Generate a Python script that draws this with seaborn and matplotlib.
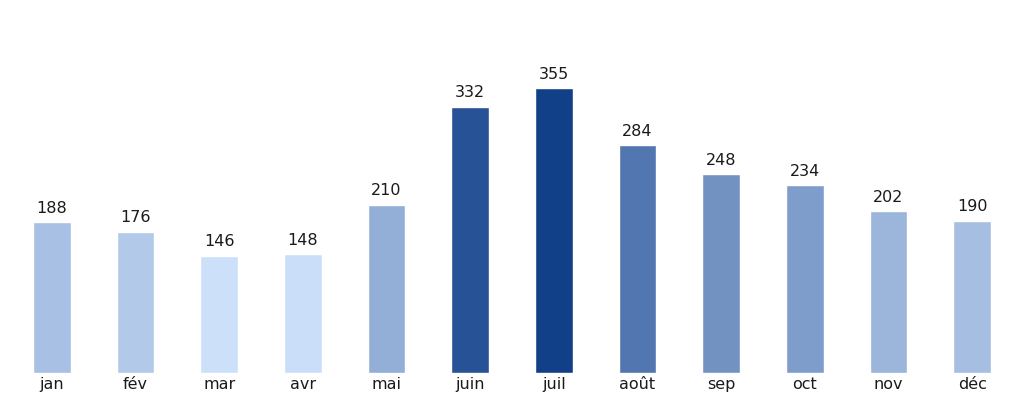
import numpy as np
import pandas as pd
import matplotlib
matplotlib.use("Agg")
import matplotlib.pyplot as plt
import seaborn as sns

# --- données ---
mois = ["jan", "fév", "mar", "avr", "mai", "juin", "juil", "août", "sep", "oct", "nov", "déc"]
valeurs = [188, 176, 146, 148, 210, 332, 355, 284, 248, 234, 202, 190]

df = pd.DataFrame({"mois": mois, "valeur": valeurs})

# couleur selon la valeur : bleu clair -> bleu foncé
clair = np.array([205, 224, 250]) / 255
fonce = np.array([18, 64, 136]) / 255
vmin, vmax = min(valeurs), max(valeurs)
couleurs = [tuple(clair + (fonce - clair) * (v - vmin) / (vmax - vmin)) for v in valeurs]

sns.set_style("white")
plt.rcParams["font.family"] = ["DejaVu Sans"]

fig = plt.figure(figsize=(10.24, 4.04), dpi=100)
ax = fig.add_axes([10 / 1024, 31 / 404, 1004 / 1024, 356 / 404])

sns.barplot(data=df, x="mois", y="valeur", hue="mois", palette=couleurs,
            width=0.45, legend=False, saturation=1, ax=ax)

for i, v in enumerate(valeurs):
    ax.text(i, v + 8, str(v), ha="center", va="bottom", fontsize=11.5, color="#1a1a1a")

ax.set_ylim(0, vmax * 1.25)
ax.set_xlim(-0.5, len(mois) - 0.5)
ax.set_xlabel("")
ax.set_ylabel("")
ax.set_yticks([])
ax.tick_params(axis="x", length=0, labelsize=11.5, colors="#1a1a1a", pad=3)
sns.despine(ax=ax, left=True, bottom=True)

fig.savefig("out.png", dpi=100)
